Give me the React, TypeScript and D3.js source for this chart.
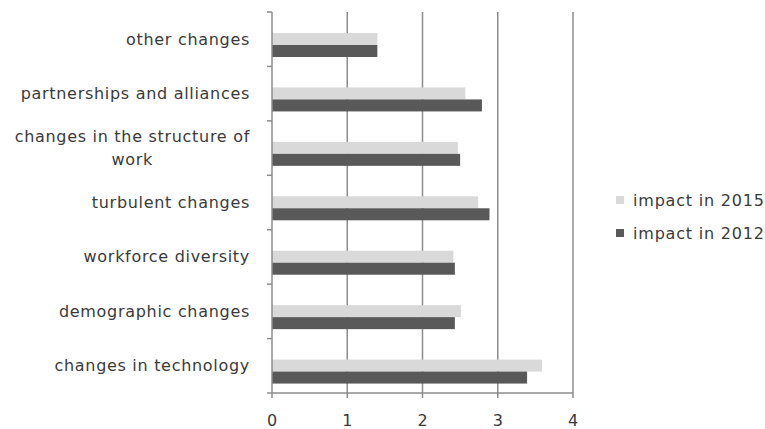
import React from 'react';
import { scaleLinear, scaleBand } from 'd3';

const categories = [
  'other changes',
  'partnerships and alliances',
  'changes in the structure of work',
  'turbulent changes',
  'workforce diversity',
  'demographic changes',
  'changes in technology',
];
const impact2015 = [1.4, 2.57, 2.47, 2.74, 2.41, 2.51, 3.59];
const impact2012 = [1.4, 2.79, 2.5, 2.89, 2.43, 2.43, 3.39];
const xTicks = [0, 1, 2, 3, 4];
const seriesNames = ['impact in 2015', 'impact in 2012'];

const W = 765;
const H = 429;
const left = 272;
const right = 573;
const top = 12;
const bottom = 393;
const light = '#d9d9d9';
const dark = '#595959';
const grid = '#8c8c8c';
const textColor = '#3a3a3a';
const font = 'DejaVu Sans, sans-serif';
const labelSize = 16;
const labelSpacing = 0.7;

function wrap(label: string, max: number) {
  const words = label.split(' ');
  const lines: string[] = [];
  let cur = '';
  words.forEach(w => {
    const next = cur ? cur + ' ' + w : w;
    if (next.length > max && cur) {
      lines.push(cur);
      cur = w;
    } else cur = next;
  });
  lines.push(cur);
  return lines;
}

function textWidth(s: string, size: number, spacing: number) {
  const ctx = document.createElement('canvas').getContext('2d');
  if (!ctx) return s.length * size * 0.6;
  ctx.font = `${size}px DejaVu Sans`;
  return ctx.measureText(s).width + spacing * s.length;
}

export default function App() {
  const x = scaleLinear().domain([0, 4]).range([left, right]);
  const y = scaleBand().domain(categories).range([top, bottom]);
  const bw = y.bandwidth();
  const barH = 12;
  const offset = 21;
  const labelRight = 250;

  return (
    <svg width={W} height={H} style={{ position: 'absolute', left: 0, top: 0, background: '#fff' }}>
      {/* gridlines */}
      {xTicks.slice(1).map(t => (
        <line key={'g' + t} x1={x(t)} x2={x(t)} y1={top} y2={bottom} stroke={grid} strokeWidth={1.5} />
      ))}
      {/* bars */}
      {categories.map((c, i) => {
        const y0 = (y(c) as number) + offset;
        return (
          <g key={c}>
            <rect x={x(0)} y={y0} width={x(impact2015[i]) - x(0)} height={barH} fill={light} />
            <rect x={x(0)} y={y0 + barH} width={x(impact2012[i]) - x(0)} height={barH} fill={dark} />
          </g>
        );
      })}
      {/* left axis */}
      <line x1={left} x2={left} y1={top} y2={bottom} stroke={grid} strokeWidth={1.5} />
      {categories.concat(['']).map((c, i) => (
        <line key={'yt' + i} x1={left - 5} x2={left} y1={top + i * bw} y2={top + i * bw} stroke={grid} strokeWidth={1.5} />
      ))}
      {/* bottom axis */}
      <line x1={left} x2={right} y1={bottom} y2={bottom} stroke={grid} strokeWidth={1.5} />
      {xTicks.map(t => (
        <g key={'xt' + t}>
          <line x1={x(t)} x2={x(t)} y1={bottom} y2={bottom + 5} stroke={grid} strokeWidth={1.5} />
          <text x={x(t)} y={420} textAnchor="middle" dominantBaseline="central" fontFamily={font} fontSize={16} fill={textColor}>
            {t}
          </text>
        </g>
      ))}
      {/* category labels */}
      {categories.map(c => {
        const lines = wrap(c, 27);
        const cy = (y(c) as number) + bw / 2;
        const lh = 23;
        const maxW = Math.max(...lines.map(l => textWidth(l, labelSize, labelSpacing)));
        const cx = labelRight - maxW / 2;
        return (
          <text key={'l' + c} textAnchor="middle" fontFamily={font} fontSize={labelSize} letterSpacing={labelSpacing} fill={textColor}>
            {lines.map((ln, k) => (
              <tspan key={k} x={cx} y={cy + (k - (lines.length - 1) / 2) * lh} dominantBaseline="central">
                {ln}
              </tspan>
            ))}
          </text>
        );
      })}
      {/* legend */}
      {seriesNames.map((s, i) => (
        <g key={s} transform={`translate(616, ${200 + i * 33})`}>
          <rect x={0} y={-4} width={8} height={8} fill={i === 0 ? light : dark} />
          <text x={17} y={0} dominantBaseline="central" fontFamily={font} fontSize={16} letterSpacing={0.8} fill={textColor}>
            {s}
          </text>
        </g>
      ))}
    </svg>
  );
}
